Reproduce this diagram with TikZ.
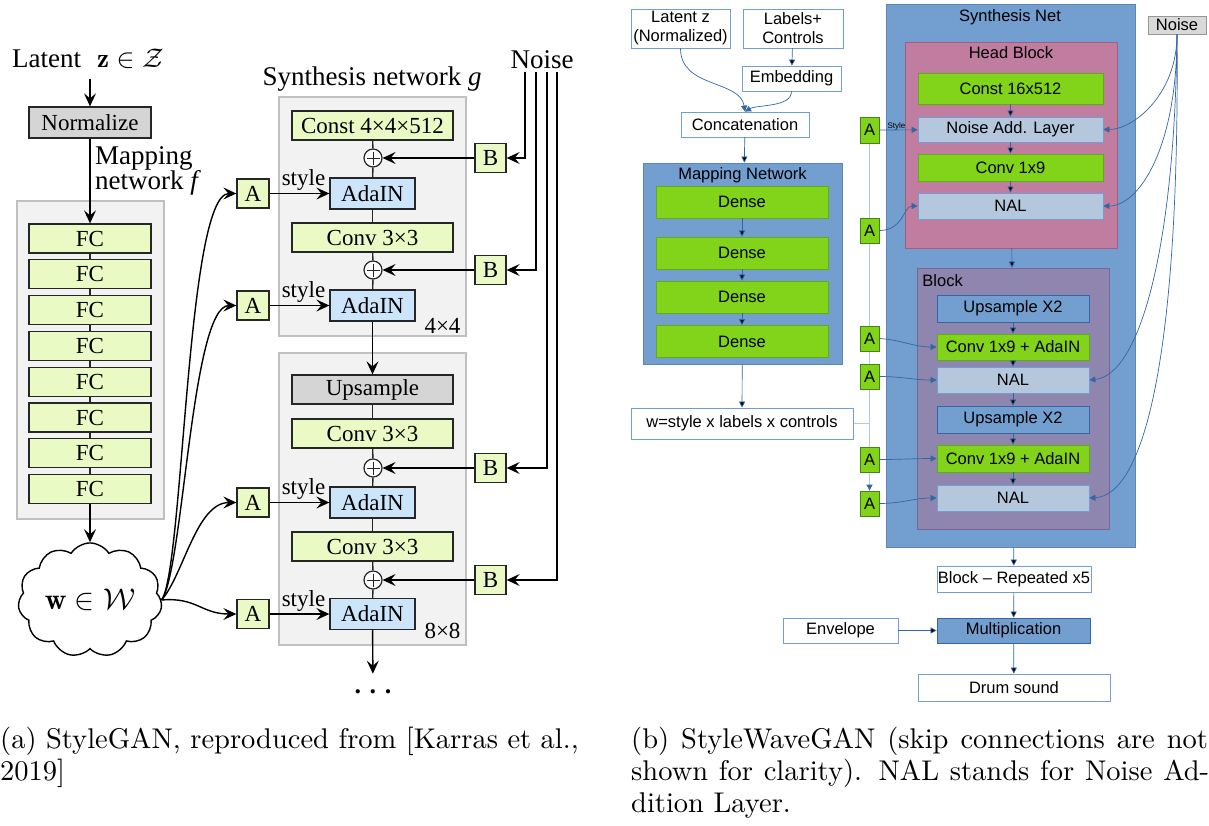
\RequirePackage{fix-cm}
\documentclass[tikz,border=0pt]{standalone}
\usepackage{amsmath,amssymb}
\usepackage{fontspec}
\usepackage{graphicx}
\usetikzlibrary{arrows.meta,positioning,shapes.symbols}
\pgfdeclarelayer{background}
\pgfsetlayers{background,main}
\newfontfamily\timesfnt{Liberation Serif}
\newfontfamily\arialfnt{Liberation Sans}
\definecolor{fcgreen}{RGB}{233,250,196}
\definecolor{adablue}{RGB}{204,229,250}
\definecolor{panelgray}{RGB}{242,242,242}
\definecolor{panelline}{RGB}{192,192,192}
\definecolor{boxgray}{RGB}{213,213,213}
\definecolor{inkdark}{RGB}{38,38,38}
\definecolor{lblue}{RGB}{114,159,207}
\definecolor{ledge}{RGB}{52,101,164}
\definecolor{lgreen}{RGB}{129,212,26}
\definecolor{lgreenline}{RGB}{98,170,24}
\definecolor{agreenline}{RGB}{70,130,20}
\definecolor{lpink}{RGB}{193,125,160}
\definecolor{lpinkline}{RGB}{160,95,130}
\definecolor{lpurple}{RGB}{142,134,174}
\definecolor{lpurpleline}{RGB}{115,105,150}
\definecolor{lpale}{RGB}{180,199,220}
\definecolor{lgrey}{RGB}{217,217,217}
\definecolor{lgreyline}{RGB}{150,150,150}

\begin{document}
\begin{tikzpicture}[x=1pt,y=-1pt,inner sep=0pt,on grid,node distance=35.8pt,
  lbl/.style={font=\timesfnt\fontsize{27}{25}\selectfont},
  lblsmall/.style={font=\timesfnt\fontsize{23}{26}\selectfont},
  abox/.style={draw=inkdark,line width=1.3pt,font=\timesfnt\fontsize{23}{26}\selectfont,minimum height=29pt},
  fc/.style={abox,fill=fcgreen,minimum width=122pt},
  conv/.style={abox,fill=fcgreen,minimum width=161pt},
  ada/.style={abox,fill=adablue,minimum width=85pt,minimum height=31pt},
  grey/.style={abox,fill=boxgray},
  ab/.style={abox,fill=fcgreen,minimum width=32pt},
  plus/.style={circle,draw=inkdark,line width=1.2pt,fill=white,minimum size=18pt,
    path picture={\draw[line width=1pt]
      ([yshift=-2.5pt]path picture bounding box.north) -- ([yshift=2.5pt]path picture bounding box.south)
      ([xshift=2.5pt]path picture bounding box.west) -- ([xshift=-2.5pt]path picture bounding box.east);}},
  panel/.style={draw=panelline,line width=1.2pt,fill=panelgray},
  arr/.style={draw=black,line width=1.4pt,-{Stealth[length=13pt,width=12pt,inset=5pt]}},
  ln/.style={draw=inkdark,line width=1.4pt},
  rbox/.style={font=\arialfnt\fontsize{16.5}{19}\selectfont,align=center,line width=0.8pt},
  wbox/.style={rbox,draw=lblue,fill=white},
  gbox/.style={rbox,draw=lgreenline,fill=lgreen},
  pbox/.style={rbox,draw=lblue,fill=lpale},
  bbox/.style={rbox,draw=ledge,fill=lblue},
  sa/.style={rbox,draw=agreenline,fill=lgreen,minimum width=19pt,minimum height=25pt},
  rarr/.style={draw=ledge,line width=0.7pt,-{Triangle[length=6pt,width=6pt]}},
  capline/.style={anchor=base west}
]
\useasboundingbox (0,0) rectangle (1209,825);

% (a) StyleGAN
\node[panel,minimum width=147pt,minimum height=318pt] (mapf) at (90.5,360) {};
\node[panel,minimum width=187pt,minimum height=239pt] (syn1) at (372.5,216.5) {};
\node[panel,minimum width=187pt,minimum height=292pt] (syn2) at (372.5,499) {};

\node[lbl] (latent) at (88,59) {Latent\hspace{0.6em}$\mathbf{z}\in\mathcal{Z}$};
\node[grey,minimum width=122pt,minimum height=31pt] (norm) at (90,122.5) {Normalize};
\node[lbl,anchor=west,align=left] (maplbl) at (95,171) {Mapping\\network \textit{f}};
\node[fc] (fc1) at (90,238.5) {FC};
\node[fc,below=of fc1] (fc2) {FC};
\node[fc,below=of fc2] (fc3) {FC};
\node[fc,below=of fc3] (fc4) {FC};
\node[fc,below=of fc4] (fc5) {FC};
\node[fc,below=of fc5] (fc6) {FC};
\node[fc,below=of fc6] (fc7) {FC};
\node[fc,below=of fc7] (fc8) {FC};
\node[cloud,cloud puffs=11,cloud puff arc=115,aspect=1.3,draw=black,line width=1.4pt,fill=white,
  minimum width=144pt,minimum height=112pt,font=\fontsize{30}{32}\selectfont] (w) at (90,600) {$\mathbf{w}\in\mathcal{W}$};

\node[lbl] (synlbl) at (372,79) {Synthesis network \textit{g}};
\node[lbl] (noise) at (542,60) {Noise};
\node[conv] (const) at (372.5,125.5) {Const 4×4×512};
\node[plus] (p1) at (373,158) {};
\node[ada] (ada1) at (372.5,193.5) {AdaIN};
\node[conv] (cv1) at (372.5,237.5) {Conv 3×3};
\node[plus] (p2) at (373,270) {};
\node[ada] (ada2) at (372.5,305.5) {AdaIN};
\node[lblsmall] (res1) at (442.5,326) {4×4};
\node[grey,minimum width=161pt] (ups) at (372.5,389.5) {Upsample};
\node[conv] (cv2) at (372.5,433.5) {Conv 3×3};
\node[plus] (p3) at (373,468) {};
\node[ada] (ada3) at (372.5,502.5) {AdaIN};
\node[conv] (cv3) at (372.5,546.5) {Conv 3×3};
\node[plus] (p4) at (373,580) {};
\node[ada] (ada4) at (372.5,614) {AdaIN};
\node[lblsmall] (res2) at (442.5,631) {8×8};
\node[font=\timesfnt\bfseries\fontsize{26}{26}\selectfont] (more) at (373,692) {. . .};

\node[ab] (a1) at (253,193.5) {A};
\node[ab] (a2) at (253,305.5) {A};
\node[ab] (a3) at (253,502.5) {A};
\node[ab] (a4) at (253,614) {A};
\node[ab,minimum width=31pt] (b1) at (490.5,158) {B};
\node[ab,minimum width=31pt] (b2) at (490.5,270) {B};
\node[ab,minimum width=31pt] (b3) at (490.5,468) {B};
\node[ab,minimum width=31pt] (b4) at (490.5,580) {B};

\draw[arr,shorten <=10pt] (latent.south -| norm) -- (norm);
\draw[arr] (norm) -- (fc1);
\path[ln] (fc1) edge (fc2) (fc2) edge (fc3) (fc3) edge (fc4) (fc4) edge (fc5)
  (fc5) edge (fc6) (fc6) edge (fc7) (fc7) edge (fc8);
\draw[arr] (fc8) -- (w);
\draw[arr] (w.east) .. controls +(22,-30) and +(-50,0) .. (a1.west);
\draw[arr] (w.east) .. controls +(22,-30) and +(-45,0) .. (a2.west);
\draw[arr] (w.east) .. controls +(22,-25) and +(-40,0) .. (a3.west);
\draw[arr] (w.east) .. controls +(35,-3) and +(-35,0) .. (a4.west);
\path[arr] (a1) edge node[lblsmall,above=2pt,xshift=4pt] {style} (ada1)
  (a2) edge node[lblsmall,above=2pt,xshift=4pt] {style} (ada2)
  (a3) edge node[lblsmall,above=2pt,xshift=4pt] {style} (ada3)
  (a4) edge node[lblsmall,above=2pt,xshift=4pt] {style} (ada4);
\path[arr] (b1) edge (p1) (b2) edge (p2) (b3) edge (p3) (b4) edge (p4);
\draw[arr] ([xshift=-17pt,yshift=-3pt]noise.south) |- (b1);
\draw[arr] ([xshift=-6pt,yshift=-3pt]noise.south) |- (b2);
\draw[arr] ([xshift=5pt,yshift=-3pt]noise.south) |- (b3);
\draw[arr] ([xshift=15pt,yshift=-3pt]noise.south) |- (b4);
\path[ln] (const) edge (p1) (p1) edge (ada1) (ada1) edge (cv1) (cv1) edge (p2) (p2) edge (ada2);
\draw[arr] (ada2) -- (ups);
\path[ln] (ups) edge (cv2) (cv2) edge (p3) (p3) edge (ada3) (ada3) edge (cv3) (cv3) edge (p4) (p4) edge (ada4);
\draw[arr,shorten >=16pt] (ada4) -- (more);

% (b) StyleWaveGAN
\node[bbox,draw=ledge!80,minimum width=199pt,minimum height=201pt] (mapnet) at (742.5,263.5) {};
\node[bbox,draw=ledge!80,minimum width=249pt,minimum height=543pt] (synnet) at (1010.5,275.5) {};
\node[rbox,draw=lpinkline,fill=lpink,minimum width=212pt,minimum height=206pt] (head) at (1011,145) {};
\node[rbox,draw=lpurpleline,fill=lpurple,minimum width=192pt,minimum height=261pt] (block) at (1013,398.5) {};
\node[rbox] (maptitle) at (742.5,175) {Mapping Network};
\node[rbox] (syntitle) at (1010,17) {Synthesis Net};
\node[rbox] (headtitle) at (1011,53) {Head Block};
\node[rbox,anchor=west] (blocktitle) at (922,281) {Block};

\node[wbox,minimum width=99pt,minimum height=39pt] (latz) at (680.5,28.5) {Latent z\\(Normalized)};
\node[wbox,minimum width=100pt,minimum height=39pt] (lab) at (793,28.5) {Labels+\\Controls};
\node[wbox,minimum width=99pt,minimum height=25pt] (emb) at (791.5,78.5) {Embedding};
\node[wbox,minimum width=128pt,minimum height=25pt] (concat) at (745,124.5) {Concatenation};
\node[gbox,minimum width=172pt,minimum height=32pt] (dense1) at (742,202) {Dense};
\node[gbox,minimum width=172pt,minimum height=32pt] (dense2) at (742,253) {Dense};
\node[gbox,minimum width=172pt,minimum height=32pt] (dense3) at (742,297) {Dense};
\node[gbox,minimum width=172pt,minimum height=32pt] (dense4) at (742,341.5) {Dense};
\node[wbox,minimum width=222pt,minimum height=31pt] (wvec) at (742,423.5) {w=style x labels x controls};

\node[gbox,minimum width=185pt,minimum height=31pt] (const16) at (1010.5,88.5) {Const 16x512};
\node[pbox,minimum width=185pt,minimum height=25pt] (nalayer) at (1010.5,129.5) {Noise Add. Layer};
\node[gbox,minimum width=185pt,minimum height=27pt] (conv19) at (1010.5,167.5) {Conv 1x9};
\node[pbox,minimum width=185pt,minimum height=26pt] (nalh) at (1010.5,206) {NAL};
\node[bbox,minimum width=152pt,minimum height=27pt] (up1) at (1013,308.5) {Upsample X2};
\node[gbox,minimum width=152pt,minimum height=26pt] (cad1) at (1013,347) {Conv 1x9 + AdaIN};
\node[pbox,minimum width=152pt,minimum height=26pt] (nal1) at (1013,380) {NAL};
\node[bbox,minimum width=152pt,minimum height=27pt] (up2) at (1013,419.5) {Upsample X2};
\node[gbox,minimum width=152pt,minimum height=27pt] (cad2) at (1013,458.5) {Conv 1x9 + AdaIN};
\node[pbox,minimum width=152pt,minimum height=26pt] (nal2) at (1013,498) {NAL};

\node[sa,minimum height=26pt] (ah1) at (869.5,130) {A};
\node[sa] (ah2) at (869.5,230.5) {A};
\node[sa] (ab1) at (869.5,338.5) {A};
\node[sa] (ab2) at (869.5,376.5) {A};
\node[sa] (ab3) at (869.5,459.5) {A};
\node[sa] (ab4) at (869.5,503.5) {A};
\node[rbox,draw=lgreyline,fill=lgrey,minimum width=58pt,minimum height=18pt] (noiseb) at (1177,25) {Noise};

\node[wbox,minimum width=154pt,minimum height=26pt] (rep) at (1014,579) {Block – Repeated x5};
\node[bbox,minimum width=153pt,minimum height=25pt] (mult) at (1013.5,630.5) {Multiplication};
\node[wbox,minimum width=115pt,minimum height=25pt] (env) at (840.5,630.5) {Envelope};
\node[wbox,minimum width=192pt,minimum height=27pt] (drum) at (1014,687.5) {Drum sound};

\begin{pgfonlayer}{background}
\draw[draw=lpale,line width=1pt,-{Triangle[length=6pt,width=6pt,color=ledge]}] (ah1) -- (ab4);
\draw[draw=lpale,line width=1pt] (wvec.east) -- (wvec.east -| ah1);
\end{pgfonlayer}

\draw[rarr] (latz.south) .. controls +(0,40) and +(-5,-32) .. (concat.north);
\draw[rarr] (emb.south) .. controls +(0,16) and +(12,-7) .. (concat.north);
\path[rarr] (lab) edge (emb) (concat) edge (mapnet)
  (dense1) edge (dense2) (dense2) edge (dense3) (dense3) edge (dense4)
  (mapnet) edge (wvec);
\draw[rarr] (ah1) -- node[font=\arialfnt\fontsize{8}{8}\selectfont,above=-1pt,xshift=-2pt] {Style} (nalayer);
\draw[rarr] (ah2.east) .. controls +(24,0) and +(-14,0) .. (nalh.west);
\draw[rarr] (ab1.east) to[out=-4,in=180] (cad1.west);
\draw[rarr] (ab2.east) to[out=0,in=180] (nal1.west);
\draw[rarr] (ab3.east) to[out=0,in=180] (cad2.west);
\draw[rarr] (ab4.east) to[out=0,in=180] (nal2.west);
\path[rarr] (const16) edge (nalayer) (nalayer) edge (conv19) (conv19) edge (nalh)
  (up1) edge (cad1) (cad1) edge (nal1) (nal1) edge (up2) (up2) edge (cad2) (cad2) edge (nal2)
  (head) edge (block) (synnet) edge (rep) (rep) edge (mult) (env) edge (mult) (mult) edge (drum);
\draw[rarr] (noiseb.south) .. controls +(0,60) and +(30,0) .. (nalayer.east);
\draw[rarr] (noiseb.south) .. controls +(0,115) and +(35,0) .. (nalh.east);
\draw[rarr] (noiseb.south) .. controls +(-2,215) and +(50,-5) .. (nal1.east);
\draw[rarr] (noiseb.south) .. controls +(3,320) and +(55,-3) .. (nal2.east);

% captions
\node[capline] (capa1) at (0,748) {\scalebox{2.85}{\hbox to 203pt{(a) StyleGAN, reproduced from [Karras et al.,}}};
\node[capline] (capa2) at (0,780) {\scalebox{2.85}{2019]}};
\node[capline] (capb1) at (631,748) {\scalebox{2.85}{\hbox to 202.4pt{(b) StyleWaveGAN (skip connections are not}}};
\node[capline] (capb2) at (631,780) {\scalebox{2.85}{\hbox to 202.8pt{shown for clarity). NAL stands for Noise Ad-}}};
\node[capline] (capb3) at (631,812) {\scalebox{2.85}{dition Layer.}};
\end{tikzpicture}
\end{document}
